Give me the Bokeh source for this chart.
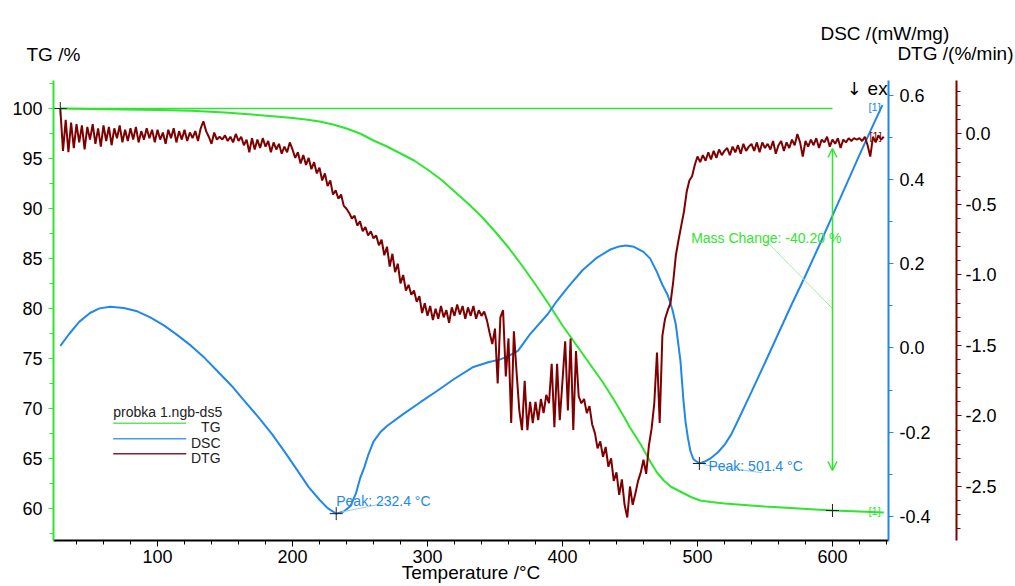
from bokeh.plotting import figure
from bokeh.models import (Range1d, LinearAxis, FixedTicker, PrintfTickFormatter,
                          Label, Arrow, OpenHead)
from bokeh.embed import file_html
from bokeh.resources import INLINE
from bokeh.core.properties import value

FONT = "Liberation Sans"
GREEN = "#2ee62e"
BLUE = "#2288e8"
RED = "#7f0000"

# ---------------- data ----------------
tg_t = [28, 50, 75, 100, 125, 150, 170, 190, 200, 210, 220, 230, 240, 250, 260,
        270, 280, 290, 300, 310, 320, 330, 340, 350, 360, 370, 380, 390, 400, 410,
        420, 430, 438, 445, 450, 458, 465, 470, 475, 480, 490, 496, 502, 510, 520,
        530, 550, 575, 600, 620, 638]
tg = [100.0, 99.95, 99.9, 99.85, 99.77, 99.6, 99.4, 99.18, 99.05, 98.9, 98.7, 98.4,
      98.0, 97.5, 96.8, 96.2, 95.5, 94.8, 93.9, 92.9, 91.7, 90.5, 89.2, 87.7, 86.1,
      84.3, 82.4, 80.4, 78.3, 76.4, 74.5, 72.6, 70.9, 69.3, 68.1, 66.4, 64.7, 63.6,
      62.8, 62.2, 61.5, 61.1, 60.8, 60.65, 60.5, 60.4, 60.2, 60.0, 59.8, 59.7, 59.6]

dsc_t = [28, 35, 42, 50, 57, 65, 75, 85, 95, 105, 115, 125, 135, 145, 155, 165, 175,
         185, 195, 205, 212, 220, 226, 232.4, 238, 243, 247, 250, 253, 256, 260, 265,
         270, 282, 295, 307, 320, 334, 345, 354, 360, 367, 376, 389, 396, 405, 415,
         425, 435, 442, 447, 453, 460, 465, 470, 474, 478, 481.5, 484, 487.4, 489.5,
         491.1, 493, 494.8, 497, 501.4, 505, 510, 515, 520, 525, 530, 540, 550, 560,
         570, 580, 590, 600, 610, 620, 630, 637]
dsc = [0.005, 0.035, 0.062, 0.083, 0.094, 0.098, 0.095, 0.087, 0.072, 0.053, 0.030,
       0.005, -0.024, -0.057, -0.090, -0.128, -0.165, -0.205, -0.250, -0.297, -0.330,
       -0.360, -0.380, -0.393, -0.388, -0.375, -0.345, -0.310, -0.285, -0.255, -0.222,
       -0.200, -0.185, -0.157, -0.128, -0.102, -0.073, -0.045, -0.034, -0.027, -0.019,
       -0.007, 0.033, 0.080, 0.112, 0.148, 0.185, 0.213, 0.233, 0.241, 0.243, 0.240,
       0.228, 0.212, 0.180, 0.150, 0.125, 0.090, 0.055, -0.031, -0.120, -0.174, -0.215,
       -0.245, -0.264, -0.274, -0.270, -0.261, -0.248, -0.230, -0.205, -0.172, -0.104,
       -0.035, 0.035, 0.105, 0.172, 0.242, 0.314, 0.386, 0.458, 0.528, 0.576]

# DTG sampled every 2 degC starting at 28 degC
dtg = [
    0.18, -0.12, 0.10, -0.13, 0.08, -0.10, 0.07, -0.06, 0.06, -0.11,
    0.05, -0.04, 0.07, -0.07, 0.04, -0.09, 0.06, -0.05, 0.05, -0.08,
    0.04, -0.03, 0.06, -0.06, 0.03, -0.05, 0.04, -0.04, 0.05, -0.06,
    0.02, -0.04, 0.04, -0.03, 0.03, -0.06, 0.03, -0.04, 0.01, -0.07,
    0.03, -0.03, 0.04, -0.06, 0.02, -0.04, 0.03, -0.05, 0.01, -0.03,
    0.02, -0.05, 0.04, 0.09, 0.02, -0.02, -0.07, 0.01, -0.04, -0.02,
    -0.04, -0.01, -0.05, -0.02, -0.06, 0.00, -0.05, -0.02, -0.08, -0.04,
    -0.13, -0.03, -0.11, -0.04, -0.10, -0.03, -0.09, -0.05, -0.13, -0.06,
    -0.11, -0.07, -0.14, -0.09, -0.13, -0.06, -0.11, -0.17, -0.13, -0.21,
    -0.15, -0.22, -0.17, -0.25, -0.20, -0.28, -0.24, -0.33, -0.28, -0.37,
    -0.33, -0.43, -0.40, -0.46, -0.43, -0.51, -0.53, -0.56, -0.60, -0.58,
    -0.65, -0.62, -0.69, -0.66, -0.72, -0.69, -0.74, -0.72, -0.79, -0.75,
    -0.86, -0.80, -0.94, -0.85, -0.98, -0.92, -1.06, -1.00, -1.11, -1.07,
    -1.14, -1.11, -1.19, -1.15, -1.27, -1.20, -1.29, -1.22, -1.32, -1.24,
    -1.31, -1.22, -1.30, -1.25, -1.34, -1.23, -1.29, -1.21, -1.28, -1.22,
    -1.31, -1.23, -1.29, -1.22, -1.31, -1.25, -1.29, -1.26, -1.32, -1.41,
    -1.49, -1.38, -1.77, -1.30, -1.25, -1.72, -1.45, -2.05, -1.40, -1.69,
    -1.96, -2.10, -1.75, -2.10, -1.90, -2.05, -1.90, -2.03, -1.88, -1.98,
    -1.85, -1.91, -1.63, -2.08, -1.63, -2.03, -1.75, -1.47, -1.96, -1.45,
    -2.10, -1.54, -1.86, -1.91, -1.88, -1.98, -1.93, -2.06, -2.12, -2.23,
    -2.18, -2.29, -2.22, -2.36, -2.30, -2.46, -2.40, -2.56, -2.45, -2.63,
    -2.72, -2.50, -2.63, -2.55, -2.46, -2.40, -2.31, -2.41, -2.21, -2.09,
    -1.91, -1.55, -2.05, -1.43, -1.31, -1.25, -1.20, -1.05, -0.86, -0.75,
    -0.65, -0.55, -0.41, -0.33, -0.30, -0.22, -0.16, -0.20, -0.15, -0.19,
    -0.13, -0.18, -0.12, -0.17, -0.11, -0.15, -0.12, -0.10, -0.15, -0.09,
    -0.13, -0.08, -0.14, -0.07, -0.12, -0.09, -0.07, -0.12, -0.06, -0.13,
    -0.06, -0.10, -0.07, -0.11, -0.05, -0.14, -0.08, -0.05, -0.12, -0.06,
    -0.10, -0.04, -0.08, 0.00, -0.06, -0.16, -0.05, -0.09, -0.04, -0.08,
    -0.03, -0.10, -0.04, -0.06, -0.02, -0.09, -0.04, -0.07, -0.03, -0.10,
    -0.04, -0.06, -0.03, -0.05, -0.03, -0.04, -0.03, -0.05, -0.02, -0.08,
    -0.16, -0.02, -0.06, -0.01, -0.04, -0.02,
]
dtg_t = [28 + 2 * i for i in range(len(dtg))]

x_ticks = [100, 200, 300, 400, 500, 600]
x_minor = [40, 60, 80, 120, 140, 160, 180, 220, 240, 260, 280, 320, 340, 360, 380,
           420, 440, 460, 480, 520, 540, 560, 580, 620, 640]
tg_ticks = [60, 65, 70, 75, 80, 85, 90, 95, 100]
tg_minor = [57.5, 62.5, 67.5, 72.5, 77.5, 82.5, 87.5, 92.5, 97.5, 102.5]
dsc_ticks = [-0.4, -0.2, 0.0, 0.2, 0.4, 0.6]
dsc_minor = [-0.3, -0.1, 0.1, 0.3, 0.5]
dtg_ticks = [-2.5, -2.0, -1.5, -1.0, -0.5, 0.0]
dtg_minor = [-2.8, -2.7, -2.6, -2.4, -2.3, -2.2, -2.1, -1.9, -1.8, -1.7, -1.6, -1.4,
             -1.3, -1.2, -1.1, -0.9, -0.8, -0.7, -0.6, -0.4, -0.3, -0.2, -0.1, 0.1,
             0.2, 0.3]

peak1_t, peak1_v = 232.4, -0.393
peak2_t, peak2_v = 501.4, -0.274
mass_t, mass_end = 600, 59.8
mass_change_text = "Mass Change: -40.20 %"

# ---------------- figure ----------------
p = figure(width=1015, height=586, output_backend="svg", toolbar_location=None,
           x_range=Range1d(22.96, 641.5), y_range=Range1d(56.8, 102.8),
           min_border_left=53, min_border_right=127, min_border_top=80,
           min_border_bottom=46)
p.outline_line_color = None
p.grid.visible = False
p.background_fill_color = "white"
p.border_fill_color = "white"
p.extra_y_ranges = {"dsc": Range1d(-0.4567, 0.6346), "dtg": Range1d(-2.883, 0.379)}


def style(ax, color, ticks, minor, standoff, fmt=None):
    ax.ticker = FixedTicker(ticks=ticks, minor_ticks=minor)
    ax.axis_line_color = color
    ax.axis_line_width = 2
    ax.major_tick_line_color = color
    ax.minor_tick_line_color = color
    ax.major_tick_line_width = 1
    ax.minor_tick_line_width = 1
    ax.major_tick_in = 0
    ax.major_tick_out = 5
    ax.minor_tick_in = 0
    ax.minor_tick_out = 4
    ax.major_label_text_font = FONT
    ax.major_label_text_font_size = "18px"
    ax.major_label_text_color = "black"
    ax.major_label_standoff = standoff
    if fmt:
        ax.formatter = PrintfTickFormatter(format=fmt)


xa = p.xaxis[0]
style(xa, "black", x_ticks, x_minor, 3)
xa.major_tick_out = 6
xa.axis_label = "Temperature /°C"
xa.axis_label_text_font = FONT
xa.axis_label_text_font_size = "19px"
xa.axis_label_text_font_style = "normal"
xa.axis_label_text_color = "black"
xa.axis_label_standoff = -4

ya = p.yaxis[0]
style(ya, GREEN, tg_ticks, tg_minor, 6)

ax_dsc = LinearAxis(y_range_name="dsc")
style(ax_dsc, BLUE, dsc_ticks, dsc_minor, 6, "%.1f")
ax_dsc.axis_label = " "
ax_dsc.axis_label_text_font_size = "14px"
ax_dsc.axis_label_standoff = 4
p.add_layout(ax_dsc, "right")

ax_dtg = LinearAxis(y_range_name="dtg")
style(ax_dtg, RED, dtg_ticks, dtg_minor, 4, "%.1f")
p.add_layout(ax_dtg, "right")

# ---------------- curves ----------------
p.line(tg_t, tg, line_color=GREEN, line_width=2)
p.line([tg_t[0], mass_t], [tg[0], tg[0]], line_color=GREEN, line_width=1.5)
p.line(dsc_t, dsc, line_color=BLUE, line_width=2, y_range_name="dsc")
p.line(dtg_t, dtg, line_color=RED, line_width=2, y_range_name="dtg")

# markers
p.scatter([tg_t[0], mass_t], [tg[0], mass_end], marker="cross", size=13,
          line_color="#222222", line_width=1)
p.scatter([peak1_t, peak2_t], [peak1_v, peak2_v], marker="cross", size=13,
          line_color="#222222", line_width=1, y_range_name="dsc")


def lab(x, y, text, size, color, align="left", rng=None):
    kw = dict(x=x, y=y, text=text, text_font=FONT, text_font_size=size,
              text_color=color, text_align=align, text_baseline="alphabetic")
    if rng:
        kw["y_range_name"] = rng
    return Label(**kw)


# mass change annotation
p.add_layout(Arrow(x_start=mass_t, y_start=63.8, x_end=mass_t, y_end=96.0,
                   line_color=GREEN, line_width=1.5,
                   start=OpenHead(size=9, line_color=GREEN, line_width=1.5),
                   end=OpenHead(size=9, line_color=GREEN, line_width=1.5)))
p.segment(x0=[550.4], y0=[86.8], x1=[mass_t], y1=[80.0], line_color="#9ff09f",
          line_width=1)
p.add_layout(lab(495.3, 87.07, mass_change_text, "14px", GREEN))

# peak annotations
p.segment(x0=[peak1_t + 4], y0=[-0.389], x1=[267.4], y1=[-0.369], line_color="#9cc8f0",
          line_width=1, y_range_name="dsc")
p.add_layout(lab(232.4, -0.3635, "Peak: 232.4 °C", "14px", BLUE, rng="dsc"))
p.segment(x0=[peak2_t + 3], y0=[-0.277], x1=[548], y1=[-0.296], line_color="#9cc8f0",
          line_width=1, y_range_name="dsc")
p.add_layout(lab(508.1, -0.281, "Peak: 501.4 °C", "14px", BLUE, rng="dsc"))

# [1] tags
p.add_layout(lab(626.7, 0.5706, "[1]", "11px", BLUE, rng="dsc"))
p.add_layout(lab(627.4, -0.018, "[1]", "11px", RED, rng="dtg"))
p.add_layout(lab(626.7, 59.8, "[1]", "11px", GREEN))

# exo marker (clipped by the frame like the original)
p.text(x=[610.5], y=[102.0], text=["↓"], text_font=value("DejaVu Sans"),
       text_font_size="18px", text_baseline="alphabetic", text_color="black")
p.text(x=[626.0], y=[102.0], text=["exo"], text_font=value(FONT),
       text_font_size="19px", text_baseline="alphabetic", text_color="black")

# legend block
p.add_layout(lab(67.2, 69.63, "probka 1.ngb-ds5", "14px", "#222222"))
leg_names = ["TG", "DSC", "DTG"]
leg_colors = ["#5ee65e", "#4a9cea", "#8a2020"]
leg_line_y = [68.53, 66.97, 65.47]
leg_text_y = [68.2, 66.57, 65.03]
for name, col, ly, ty in zip(leg_names, leg_colors, leg_line_y, leg_text_y):
    p.line([67.2, 121.3], [ly, ly], line_color=col, line_width=1.5)
    p.add_layout(lab(146.7, ty, name, "14px", "#222222", align="right"))

# axis titles (placed in the top side panel so they are not clipped to the frame)
p.add_layout(lab(2.96, 105.4, "TG /%", "19px", "black"), "above")
p.add_layout(lab(591.1, 107.5, "DSC /(mW/mg)", "19px", "black"), "above")
p.add_layout(lab(734.1, 105.5, "DTG /(%/min)", "19px", "black", align="right"), "above")

open("out.html", "w").write(file_html(p, INLINE))
